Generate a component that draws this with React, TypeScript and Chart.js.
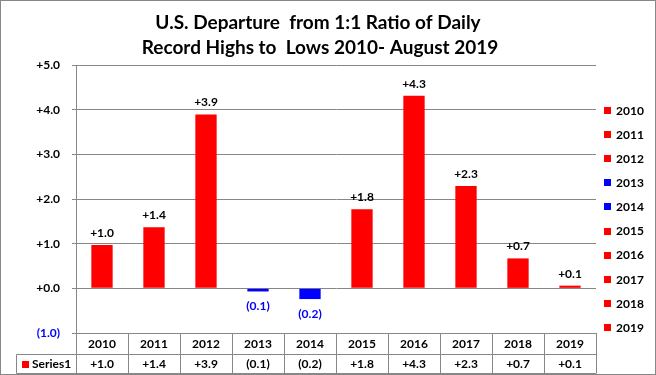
import React, { useEffect, useRef } from "react";
import { Chart, registerables } from "chart.js";

Chart.register(...registerables);

const categories = ["2010", "2011", "2012", "2013", "2014", "2015", "2016", "2017", "2018", "2019"];
const values = [0.97, 1.37, 3.89, -0.07, -0.24, 1.77, 4.31, 2.29, 0.67, 0.06];
const barColors = ["#FF0000", "#FF0000", "#FF0000", "#0000FF", "#0000FF", "#FF0000", "#FF0000", "#FF0000", "#FF0000", "#FF0000"];
const titleLines = ["U.S. Departure  from 1:1 Ratio of Daily", "Record Highs to  Lows 2010- August 2019"];
const seriesName = "Series1";
const yMin = -1;
const yMax = 5;

const FONT = "Lato, 'Open Sans', sans-serif";
const GRID = "#878787";

const fmt = (v: number) => (v < 0 ? `(${Math.abs(v).toFixed(1)})` : `+${v.toFixed(1)}`);

const overlay = {
  id: "overlay",
  afterDraw(chart: any) {
    const ctx = chart.ctx as CanvasRenderingContext2D;
    const { chartArea } = chart;
    const xs = chart.scales.x;
    ctx.save();
    // title
    ctx.fillStyle = "#000";
    ctx.textAlign = "center";
    ctx.textBaseline = "middle";
    ctx.font = `bold 19px ${FONT}`;
    ctx.fillText(titleLines[0], 318, 23);
    ctx.fillText(titleLines[1], 320, 48);

    // data labels
    ctx.font = `bold 12px ${FONT}`;
    const meta = chart.getDatasetMeta(0);
    meta.data.forEach((bar: any, i: number) => {
      const v = values[i];
      if (v >= 0) {
        ctx.fillStyle = "#000";
        ctx.fillText(fmt(v), bar.x, bar.y - 12);
      } else {
        ctx.fillStyle = "#0000FF";
        ctx.fillText(fmt(v), bar.x, bar.y + 15);
      }
    });

    // table
    const left = chartArea.left;
    const right = chartArea.right;
    const top = chartArea.bottom;
    const mid = top + 21;
    const bottom = top + 40;
    const n = categories.length;
    const colW = (right - left) / n;
    ctx.strokeStyle = GRID;
    ctx.lineWidth = 1;
    ctx.beginPath();
    for (let k = 0; k <= n; k++) {
      const x = Math.round(left + colW * k) + 0.5;
      ctx.moveTo(x, top);
      ctx.lineTo(x, bottom);
    }
    ctx.moveTo(16.5, mid + 0.5);
    ctx.lineTo(right + 0.5, mid + 0.5);
    ctx.moveTo(16.5, bottom + 0.5);
    ctx.lineTo(right + 0.5, bottom + 0.5);
    ctx.moveTo(16.5, mid + 0.5);
    ctx.lineTo(16.5, bottom + 0.5);
    ctx.stroke();

    ctx.font = `bold 12px ${FONT}`;
    ctx.fillStyle = "#000";
    ctx.textAlign = "center";
    categories.forEach((c, i) => {
      const cx = xs.getPixelForValue(i);
      ctx.fillText(c, cx, (top + mid) / 2 + 1);
      ctx.fillText(fmt(values[i]), cx, (mid + bottom) / 2 + 1);
    });
    ctx.fillStyle = "#FF0000";
    ctx.fillRect(22, 361, 7, 7);
    ctx.fillStyle = "#000";
    ctx.textAlign = "left";
    ctx.fillText(seriesName, 32, (mid + bottom) / 2 + 1);

    // legend
    categories.forEach((c, i) => {
      const y = 111 + i * 24.1;
      ctx.fillStyle = barColors[i];
      ctx.fillRect(604, Math.round(y) - 4, 7, 7);
      ctx.fillStyle = "#000";
      ctx.fillText(c, 616, y);
    });

    // frame
    ctx.strokeStyle = GRID;
    ctx.strokeRect(0.5, 0.5, 655, 374);
    ctx.restore();
  },
};

export default function App() {
  const ref = useRef<HTMLCanvasElement | null>(null);
  useEffect(() => {
    document.body.style.margin = "0";
    const canvas = ref.current!;
    const chart = new Chart(canvas, {
      type: "bar",
      data: {
        labels: categories,
        datasets: [
          {
            label: seriesName,
            data: values,
            backgroundColor: barColors,
            borderWidth: 0,
            categoryPercentage: 1,
            barPercentage: 0.41,
          },
        ],
      },
      options: {
        responsive: false,
        animation: false,
        devicePixelRatio: 1,
        layout: { padding: { left: 0, right: 60, top: 65, bottom: 0 } },
        plugins: { legend: { display: false }, tooltip: { enabled: false }, title: { display: false } },
        scales: {
          x: {
            ticks: { display: false },
            grid: { display: false },
            border: { display: false },
            afterFit: (s: any) => {
              s.height = 42;
            },
          },
          y: {
            min: yMin,
            max: yMax,
            ticks: {
              stepSize: 1,
              padding: 12,
              callback: (v: any) => fmt(Number(v)),
              color: (c: any) => (c.tick && c.tick.value < 0 ? "#0000FF" : "#000"),
              font: { family: FONT, size: 12, weight: "bold" },
            },
            grid: { color: GRID, tickLength: 4 },
            border: { color: GRID },
            afterFit: (s: any) => {
              s.width = 76;
            },
          },
        },
      },
      plugins: [overlay],
    });
    return () => chart.destroy();
  }, []);
  return (
    <div style={{ width: 656, height: 375 }}>
      <canvas ref={ref} width={656} height={375} style={{ display: "block", width: 656, height: 375 }} />
    </div>
  );
}
